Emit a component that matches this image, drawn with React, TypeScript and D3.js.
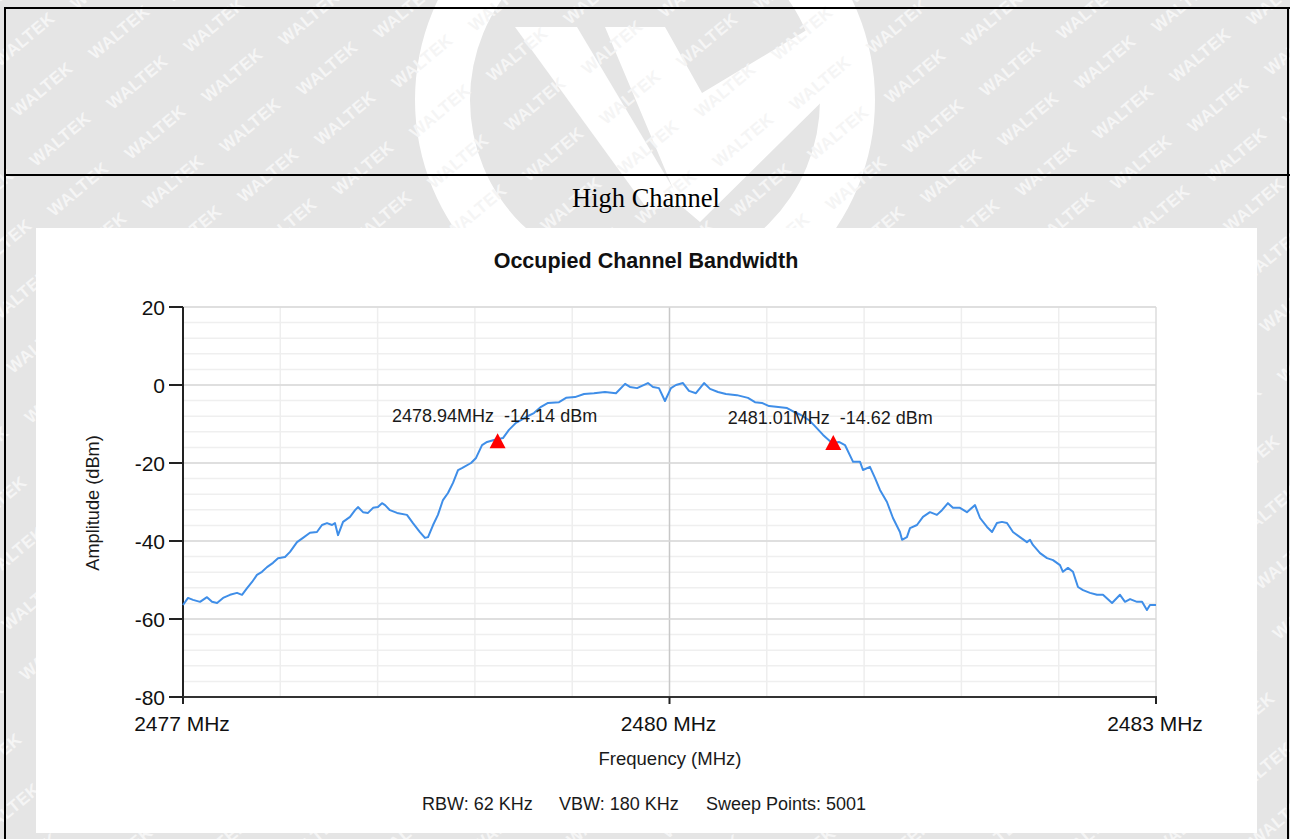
import React from "react";
import * as d3 from "d3";

// ---- data ----
const freqMHz = [
  2477.0, 2477.031, 2477.062, 2477.105, 2477.148, 2477.179, 2477.21, 2477.247, 2477.29, 2477.333,
  2477.364, 2477.395, 2477.426, 2477.456, 2477.487, 2477.518, 2477.555, 2477.586, 2477.629, 2477.66,
  2477.703, 2477.74, 2477.783, 2477.826, 2477.857, 2477.888, 2477.919, 2477.937, 2477.956, 2477.987,
  2478.03, 2478.061, 2478.079, 2478.11, 2478.141, 2478.172, 2478.202, 2478.227, 2478.246, 2478.276,
  2478.32, 2478.381, 2478.418, 2478.461, 2478.492, 2478.511, 2478.542, 2478.572, 2478.603, 2478.634,
  2478.665, 2478.696, 2478.72, 2478.776, 2478.807, 2478.844, 2478.875, 2478.918, 2478.973, 2479.01,
  2479.053, 2479.084, 2479.115, 2479.164, 2479.208, 2479.251, 2479.319, 2479.362, 2479.417, 2479.473,
  2479.534, 2479.602, 2479.67, 2479.726, 2479.756, 2479.8, 2479.867, 2479.898, 2479.935, 2479.972,
  2480.009, 2480.04, 2480.083, 2480.12, 2480.163, 2480.213, 2480.25, 2480.299, 2480.348, 2480.416,
  2480.484, 2480.527, 2480.57, 2480.614, 2480.657, 2480.725, 2480.768, 2480.811, 2480.86, 2480.891,
  2480.947, 2481.002, 2481.045, 2481.082, 2481.132, 2481.175, 2481.193, 2481.236, 2481.267, 2481.298,
  2481.341, 2481.378, 2481.421, 2481.434, 2481.464, 2481.483, 2481.526, 2481.563, 2481.606, 2481.649,
  2481.68, 2481.717, 2481.748, 2481.791, 2481.834, 2481.884, 2481.915, 2481.958, 2481.989, 2482.019,
  2482.05, 2482.081, 2482.118, 2482.161, 2482.204, 2482.223, 2482.241, 2482.285, 2482.328, 2482.365,
  2482.408, 2482.426, 2482.457, 2482.488, 2482.519, 2482.55, 2482.593, 2482.636, 2482.673, 2482.729,
  2482.778, 2482.809, 2482.84, 2482.883, 2482.914, 2482.944, 2482.963, 2483.0,
];
const levelDbm = [
  -56.4, -54.6, -55.1, -55.6, -54.4, -55.6, -55.9, -54.6, -53.8, -53.3,
  -53.8, -52.1, -50.5, -48.7, -47.9, -46.7, -45.6, -44.4, -44.1, -42.8,
  -40.3, -39.2, -37.9, -37.7, -35.9, -35.4, -35.9, -35.4, -38.5, -35.1,
  -33.8, -32.1, -31.3, -32.6, -32.8, -31.5, -31.3, -30.3, -30.8, -32.1,
  -32.8, -33.3, -35.4, -37.7, -39.2, -39.0, -35.9, -33.3, -29.5, -27.7,
  -25.1, -21.8, -21.3, -20.0, -18.7, -15.4, -14.6, -14.1, -13.6, -11.5,
  -9.7, -9.0, -8.2, -7.2, -5.6, -4.6, -4.4, -3.3, -3.1, -2.3,
  -2.1, -1.8, -2.1, 0.3, -0.5, -0.8, 0.5, -0.5, -0.8, -4.1,
  -0.8, 0.0, 0.5, -1.5, -2.1, 0.5, -1.0, -1.8, -2.3, -2.6,
  -3.3, -4.4, -4.6, -5.4, -5.6, -5.9, -6.9, -7.7, -9.0, -10.3,
  -12.8, -14.9, -14.6, -15.4, -19.7, -19.7, -21.8, -21.0, -23.8, -26.9,
  -30.0, -34.1, -37.7, -39.7, -39.0, -36.7, -35.9, -33.8, -32.6, -33.3,
  -32.1, -30.3, -31.5, -31.5, -32.6, -30.8, -34.1, -36.4, -37.7, -35.4,
  -35.1, -35.4, -37.7, -39.0, -40.3, -39.7, -41.0, -43.1, -44.4, -44.9,
  -46.2, -47.9, -46.9, -47.9, -51.8, -52.6, -53.3, -53.8, -53.8, -55.9,
  -53.8, -55.6, -54.9, -55.6, -55.6, -57.7, -56.4, -56.4,
];
const markerFreq = [2478.94, 2481.01];
const markerLevel = [-14.14, -14.62];
const markerLabels = ["2478.94MHz  -14.14 dBm", "2481.01MHz  -14.62 dBm"];
const yTicks = [20, 0, -20, -40, -60, -80];
const xTicks = [2477, 2480, 2483];
const xTickLabels = ["2477 MHz", "2480 MHz", "2483 MHz"];
const footerParts = ["RBW: 62 KHz", "VBW: 180 KHz", "Sweep Points: 5001"];
const chartTitle = "Occupied Channel Bandwidth";
const sectionTitle = "High Channel";

const W = 1290;
const H = 839;
const SANS = "'Liberation Sans', Arial, sans-serif";

export default function App() {
  const x = d3.scaleLinear().domain([2477, 2483]).range([183, 1156]);
  const y = d3.scaleLinear().domain([-80, 20]).range([697, 307]);

  const line = d3
    .line<number>()
    .x((_, i) => x(freqMHz[i]))
    .y((d) => y(d));

  const vGrid = d3.range(0, 11).map((i) => 2477 + i * 0.6);
  const hMinor = d3.range(-80, 20.01, 4);
  const hMajor = d3.range(-80, 20.01, 20);

  // watermark lattice (decoration)
  const marks: { px: number; py: number }[] = [];
  for (let i = -8; i < 18; i++) {
    for (let j = -2; j < 20; j++) {
      const px = 119 + i * 95 + j * 18;
      const py = 32 - i * 7 + j * 50;
      if (px > -60 && px < W + 60 && py > -40 && py < H + 40) marks.push({ px, py });
    }
  }

  const cx = 645, cy = 100;
  const ringPath =
    `M ${cx - 230} ${cy} a 230 230 0 1 0 460 0 a 230 230 0 1 0 -460 0 Z ` +
    `M ${cx - 175} ${cy} a 175 175 0 1 1 350 0 a 175 175 0 1 1 -350 0 Z`;

  return (
    <svg
      width={W}
      height={H}
      style={{ position: "absolute", left: 0, top: 0, display: "block" }}
      xmlns="http://www.w3.org/2000/svg"
    >
      <rect x={0} y={0} width={W} height={H} fill="#e5e5e5" />
      {/* logo watermark */}
      <g fill="#ffffff">
        <path d={ringPath} fillRule="evenodd" />
        <polygon points="515,27 577,27 683,205 648,210" />
        <polygon points="605,27 665,27 702,93 810,28 862,62 700,222 680,205" />
      </g>
      {/* text watermark */}
      <g
        fill="#f5f5f5"
        fontFamily={SANS}
        fontWeight="bold"
        fontSize={17}
        textAnchor="middle"
      >
        {marks.map((m, k) => (
          <text key={k} transform={`translate(${m.px},${m.py}) rotate(-40)`} dy="0.35em" letterSpacing="0.5">
            WALTEK
          </text>
        ))}
      </g>
      {/* table borders */}
      <g stroke="#000" strokeWidth={2}>
        <line x1={4} y1={8} x2={W} y2={8} />
        <line x1={4} y1={175} x2={W} y2={175} />
        <line x1={5} y1={8} x2={5} y2={H} />
        <line x1={1288} y1={8} x2={1288} y2={H} />
      </g>
      <text
        x={646}
        y={207}
        textAnchor="middle"
        fontFamily="'Liberation Serif', 'Times New Roman', serif"
        fontSize={26.5}
        fill="#000"
      >
        {sectionTitle}
      </text>

      {/* chart panel */}
      <rect x={36} y={228} width={1221} height={605} fill="#ffffff" />
      <text
        x={646}
        y={268}
        textAnchor="middle"
        fontFamily={SANS}
        fontWeight="bold"
        fontSize={21.5}
        fill="#111"
      >
        {chartTitle}
      </text>

      {/* grid */}
      <g>
        {hMinor.map((v) => (
          <line key={"hm" + v} x1={x(2477)} x2={x(2483)} y1={y(v)} y2={y(v)} stroke="#efefef" strokeWidth={1.5} />
        ))}
        {vGrid.map((v, i) => (
          <line
            key={"vg" + i}
            x1={x(v)}
            x2={x(v)}
            y1={y(20)}
            y2={y(-80)}
            stroke={i === 5 ? "#c8c8c8" : i === 10 ? "#dcdcdc" : "#eeeeee"}
            strokeWidth={1.5}
          />
        ))}
        {hMajor.map((v) => (
          <line key={"hM" + v} x1={x(2477)} x2={x(2483)} y1={y(v)} y2={y(v)} stroke="#d9d9d9" strokeWidth={1.5} />
        ))}
      </g>

      {/* axes */}
      <g stroke="#222" strokeWidth={2}>
        <line x1={x(2477)} x2={x(2477)} y1={y(20)} y2={y(-80) + 1} />
        <line x1={x(2477)} x2={x(2483) + 1} y1={y(-80)} y2={y(-80)} stroke="#333" />
        {yTicks.map((t) => (
          <line key={"yt" + t} x1={x(2477) - 14} x2={x(2477)} y1={y(t)} y2={y(t)} />
        ))}
        {xTicks.map((t) => (
          <line key={"xt" + t} x1={x(t)} x2={x(t)} y1={y(-80)} y2={y(-80) + 7} />
        ))}
      </g>
      <g fontFamily={SANS} fontSize={21} fill="#111">
        {yTicks.map((t) => (
          <text key={"yl" + t} x={x(2477) - 18} y={y(t)} dy="0.36em" textAnchor="end">
            {t}
          </text>
        ))}
        {xTicks.map((t, i) => (
          <text key={"xl" + t} x={x(t) - 1} y={731} textAnchor="middle">
            {xTickLabels[i]}
          </text>
        ))}
      </g>
      <text x={670} y={765} textAnchor="middle" fontFamily={SANS} fontSize={18.5} fill="#1a1a1a">
        Frequency (MHz)
      </text>
      <text
        transform="translate(99,503) rotate(-90)"
        textAnchor="middle"
        fontFamily={SANS}
        fontSize={18.2}
        fill="#1a1a1a"
      >
        Amplitude (dBm)
      </text>
      <g fontFamily={SANS} fontSize={18} fill="#1a1a1a">
        <text x={422} y={810}>{footerParts[0]}</text>
        <text x={559} y={810}>{footerParts[1]}</text>
        <text x={706} y={810}>{footerParts[2]}</text>
      </g>

      {/* trace */}
      <path d={line(levelDbm) || ""} fill="none" stroke="#3f8ee8" strokeWidth={2} strokeLinejoin="round" />

      {/* markers */}
      {markerFreq.map((f, i) => {
        const mx = x(f);
        const my = y(markerLevel[i]);
        return (
          <g key={"mk" + i}>
            <polygon points={`${mx},${my - 7} ${mx - 8},${my + 8} ${mx + 8},${my + 8}`} fill="#ff0000" />
            <text
              x={mx - 3}
              y={my - 18}
              textAnchor="middle"
              fontFamily={SANS}
              fontSize={18}
              fill="#1a1a1a"
              style={{ whiteSpace: "pre" }}
            >
              {markerLabels[i]}
            </text>
          </g>
        );
      })}
    </svg>
  );
}
